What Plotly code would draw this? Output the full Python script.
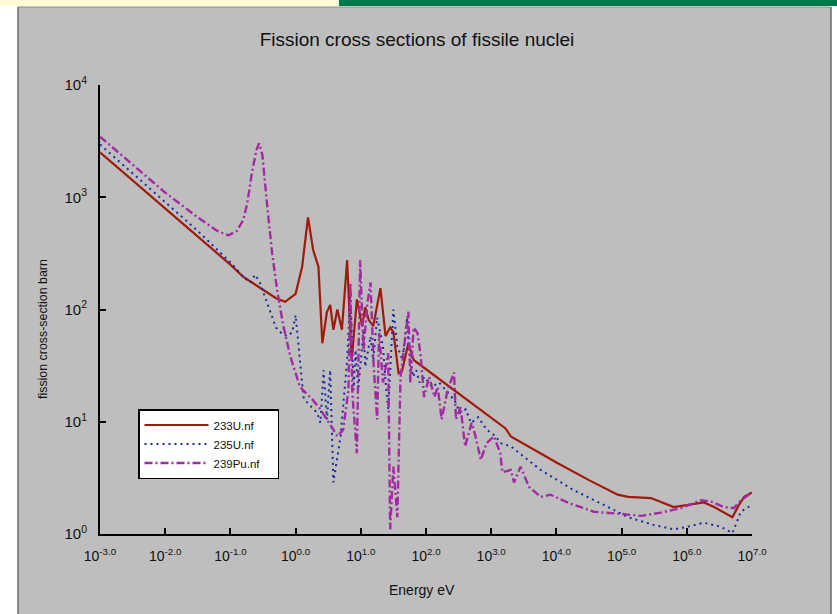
import plotly.graph_objects as go

# ---------------- data ----------------
# 233U.nf : energy (eV) and fission cross-section (barn)
u233_energy = [0.001, 0.01, 0.0316, 0.1, 0.158, 0.316, 0.501, 0.692, 1.0, 1.26,
               1.55, 1.86, 2.24, 2.57, 3.02, 3.39, 3.80, 4.37, 5.13, 6.17,
               7.24, 8.71, 10.5, 11.7, 13.2, 15.5, 20.0, 24.0, 28.2, 31.6,
               38.0, 42.7, 53.7, 64.6, 316, 1380, 1660, 2000, 3980, 10500,
               31600, 87100, 126000, 282000, 631000, 1.82e6, 2.63e6, 5.01e6, 6.31e6, 7.59e6,
               1e7]
u233_sigma = [2510, 794, 447, 251, 195, 151, 126, 117, 138, 240,
              661, 339, 240, 50, 95, 110, 66, 100, 66, 275,
              35, 123, 71, 105, 81, 71, 155, 58, 69, 63,
              27, 28, 50, 35.5, 17.8, 9.33, 8.71, 7.41, 5.89, 4.27,
              3.02, 2.24, 2.14, 2.09, 1.74, 1.91, 1.74, 1.41, 1.82, 2.14,
              2.34]

# 235U.nf
u235_energy = [0.001, 0.01, 0.0316, 0.1, 0.158, 0.2, 0.24, 0.282, 0.339, 0.407,
               0.501, 0.631, 0.759, 0.891, 1.0, 1.32, 1.51, 2.14, 2.40, 2.69,
               3.02, 3.39, 3.80, 4.90, 6.17, 6.92, 7.76, 8.32, 9.12, 11.0,
               11.7, 14.1, 15.5, 17.8, 21.9, 24.0, 26.3, 31.6, 36.3, 43.6,
               51.3, 53.7, 63.1, 70.8, 79.4, 95.5, 123, 158, 200, 275,
               331, 407, 490, 631, 851, 1175, 1380, 2000, 5750, 18600,
               61700, 126000, 316000, 631000, 1.02e6, 1.82e6, 3.31e6, 5.01e6, 6.76e6, 1e7]
u235_sigma = [2950, 912, 501, 263, 195, 174, 204, 174, 129, 93,
              69, 60, 58, 63, 89, 16.6, 14.8, 12.0, 9.8, 28.8,
              10.5, 28.8, 2.88, 7.4, 35.5, 148, 19.1, 43.6, 19.1, 66,
              30.9, 57.5, 35.5, 85, 46.8, 22.4, 12.9, 100, 46.8, 35.5,
              85, 50, 25.1, 28.8, 22.4, 25.1, 20.4, 22.4, 19.1, 15.5,
              12.0, 12.9, 9.77, 11.0, 8.51, 7.41, 6.46, 6.03, 3.72, 2.45,
              1.74, 1.41, 1.20, 1.10, 1.16, 1.26, 1.16, 1.02, 1.58, 1.82]

# 239Pu.nf
pu239_energy = [0.001, 0.01, 0.0316, 0.063, 0.0933, 0.126, 0.158, 0.182, 0.214, 0.251,
                0.275, 0.309, 0.363, 0.437, 0.525, 0.646, 0.832, 1.17, 1.86, 2.40,
                3.80, 4.37, 5.37, 6.46, 6.92, 7.41, 8.71, 9.77, 11.0, 12.6,
                14.1, 15.8, 17.8, 19.1, 21.9, 26.3, 28.2, 31.6, 36.3, 40.7,
                53.7, 57.5, 64.6, 74.1, 83.2, 93.3, 112, 135, 151, 174,
                214, 269, 288, 339, 398, 501, 575, 692, 851, 1100,
                1380, 1480, 2000, 2240, 2820, 3800, 5750, 8130, 14800, 37200,
                97700, 200000, 398000, 813000, 1.66e6, 2.34e6, 3.72e6, 5.25e6, 6.76e6, 1e7]
pu239_sigma = [3470, 1100, 661, 501, 457, 501, 631, 891, 1660, 2630,
               3020, 2400, 891, 316, 145, 72, 38, 20.4, 15.5, 12.9,
               8.5, 7.4, 8.5, 19.1, 174, 18.2, 5.25, 275, 43.6, 112,
               174, 30.9, 10.5, 61.7, 22.4, 40.7, 1.10, 3.98, 1.41, 25.1,
               95.5, 22.4, 69, 61.7, 38, 16.6, 25.1, 16.6, 20.4, 10.5,
               19.1, 27.5, 10.5, 13.5, 6.03, 9.77, 7.41, 4.57, 6.46, 7.41,
               5.25, 3.55, 3.72, 2.88, 3.98, 2.63, 2.14, 2.24, 1.91, 1.58,
               1.51, 1.45, 1.55, 1.70, 2.0, 1.95, 1.74, 1.70, 2.0, 2.34]

series_names = ["233U.nf", "235U.nf", "239Pu.nf"]

x_tick_vals = [1e-3, 1e-2, 1e-1, 1e0, 1e1, 1e2, 1e3, 1e4, 1e5, 1e6, 1e7]
x_tick_text = ["10<sup>-3.0</sup>", "10<sup>-2.0</sup>", "10<sup>-1.0</sup>", "10<sup>0.0</sup>",
               "10<sup>1.0</sup>", "10<sup>2.0</sup>", "10<sup>3.0</sup>", "10<sup>4.0</sup>",
               "10<sup>5.0</sup>", "10<sup>6.0</sup>", "10<sup>7.0</sup>"]
y_tick_vals = [1e0, 1e1, 1e2, 1e3, 1e4]
y_tick_text = ["10<sup>0</sup>", "10<sup>1</sup>", "10<sup>2</sup>", "10<sup>3</sup>", "10<sup>4</sup>"]

# ---------------- figure ----------------
W, H = 837, 614
L, R, T, B = 100, 85, 85, 80
pw, ph = W - L - R, H - T - B


def px(xp):
    return (xp - L) / pw


def py(yp):
    return (H - B - yp) / ph


FONT = "Liberation Sans, Arial, sans-serif"
PAD = "\u00a0\u00a0\u00a0\u00a0"

fig = go.Figure()
fig.add_trace(go.Scatter(x=u233_energy, y=u233_sigma, mode="lines", name=series_names[0] + PAD,
                         line=dict(color="#a01a0c", width=2.2)))
fig.add_trace(go.Scatter(x=u235_energy, y=u235_sigma, mode="lines", name=series_names[1] + PAD,
                         line=dict(color="#1c2a9e", width=2, dash="2px,4px")))
fig.add_trace(go.Scatter(x=pu239_energy, y=pu239_sigma, mode="lines", name=series_names[2] + PAD,
                         line=dict(color="#a42aa4", width=2.4, dash="8px,3px,2px,3px")))

shapes = [
    # grey panel
    dict(type="rect", xref="paper", yref="paper", x0=px(18), x1=px(831), y0=py(614), y1=py(7),
         fillcolor="#bebebe", line=dict(width=0), layer="below"),
    dict(type="line", xref="paper", yref="paper", x0=px(18), x1=px(18), y0=py(614), y1=py(7),
         line=dict(color="#6a6a6a", width=1.5), layer="below"),
    dict(type="line", xref="paper", yref="paper", x0=px(831), x1=px(831), y0=py(614), y1=py(7),
         line=dict(color="#6a6a6a", width=1.5), layer="below"),
    dict(type="line", xref="paper", yref="paper", x0=px(18), x1=px(831), y0=py(7), y1=py(7),
         line=dict(color="#8a8a8a", width=1), layer="below"),
    # top stripes
    dict(type="rect", xref="paper", yref="paper", x0=px(0), x1=px(339), y0=py(6), y1=py(0),
         fillcolor="#fffbd2", line=dict(width=0), layer="below"),
    dict(type="rect", xref="paper", yref="paper", x0=px(339), x1=px(837), y0=py(6), y1=py(0),
         fillcolor="#00784a", line=dict(width=0), layer="below"),
]

annotations = [
    dict(text="Energy eV", xref="paper", yref="paper", x=px(422), y=py(590),
         xanchor="center", yanchor="middle", showarrow=False,
         font=dict(family=FONT, size=14, color="#111111")),
    dict(text="fission cross-section barn", xref="paper", yref="paper", x=px(43), y=py(329),
         xanchor="center", yanchor="middle", showarrow=False, textangle=-90,
         font=dict(family=FONT, size=12.4, color="#111111")),
]

fig.update_layout(
    width=W, height=H,
    margin=dict(l=L, r=R, t=T, b=B),
    paper_bgcolor="white",
    plot_bgcolor="rgba(0,0,0,0)",
    title=dict(text="Fission cross sections of fissile nuclei", x=417 / W, y=1 - 39 / H,
               xanchor="center", yanchor="middle",
               font=dict(family=FONT, size=19, color="#111111")),
    font=dict(family=FONT, size=13, color="#111111"),
    shapes=shapes,
    annotations=annotations,
    showlegend=True,
    legend=dict(x=px(138), y=py(409), xanchor="left", yanchor="top",
                bgcolor="white", bordercolor="black", borderwidth=1.5,
                font=dict(family=FONT, size=11.5, color="#111111"),
                itemwidth=64, tracegroupgap=0),
)

fig.update_xaxes(type="log", range=[-3, 7], tickvals=x_tick_vals, ticktext=x_tick_text,
                 ticks="inside", ticklen=6, tickwidth=2, tickcolor="black",
                 showline=True, linecolor="black", linewidth=2, showgrid=False, zeroline=False,
                 ticklabelstandoff=8, tickfont=dict(family=FONT, size=14, color="#111111"))
fig.update_yaxes(type="log", range=[0, 4], tickvals=y_tick_vals, ticktext=y_tick_text,
                 ticks="inside", ticklen=6, tickwidth=2, tickcolor="black",
                 showline=True, linecolor="black", linewidth=2, showgrid=False, zeroline=False,
                 ticklabelstandoff=8, tickfont=dict(family=FONT, size=15, color="#111111"))

fig.write_html("out.html", config={"displayModeBar": False},
               post_script="document.body.style.margin='0px';document.body.style.padding='0px';")
